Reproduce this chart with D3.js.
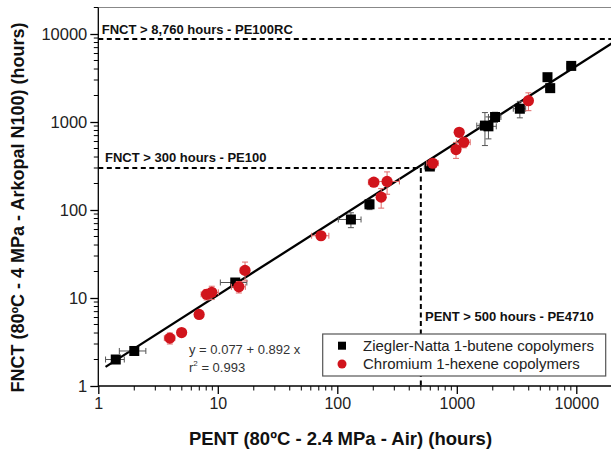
<!DOCTYPE html>
<html>
<head>
<meta charset="utf-8">
<script src="https://cdn.jsdelivr.net/npm/d3@7"></script>
<style>
  body { margin: 0; background: #fff; }
  svg { display: block; font-family: "Liberation Sans", Arial, sans-serif; }
</style>
</head>
<body>
<div id="container"></div>
<script>
// Ziegler-Natta 1-butene copolymers
const znPent = [1.4, 2.0, 14, 130, 186, 595, 1720, 1840, 2090, 3370, 5740, 6050, 9070];
const znFnct = [2.0, 2.5, 15, 78, 116, 312, 910, 893, 1140, 1415, 3230, 2425, 4340];
const znPentErr = [0.25, 0.5, 3.5, 28, 15, 60, 250, 300, 250, 400, 300, 500, 700];
const znFnctErr = [0.15, 0.2, 1, 15, 15, 30, 370, 250, 150, 300, 200, 200, 300];

// Chromium 1-hexene copolymers
const crPent = [3.97, 4.98, 6.98, 8.05, 8.9, 15, 16.9, 73, 202, 233, 261, 630, 985, 1047, 1145, 3975];
const crFnct = [3.5, 4.05, 6.5, 11, 11.6, 13.4, 20.6, 51, 207, 140, 211, 340, 486, 764, 589, 1745];
const crPentErr = [0.4, 0.3, 0.4, 0.8, 1.2, 2, 1.5, 12, 20, 20, 70, 70, 60, 40, 150, 300];
const crFnctErr = [0.5, 0.4, 0.5, 1.5, 2, 2, 5, 3, 15, 35, 60, 30, 100, 50, 80, 400];

// fitted line end points
const fitPent = [1.15, 20000];
const fitFnct = [1.65, 7900];

const xTicks = [1, 10, 100, 1000, 10000];
const yTicks = [1, 10, 100, 1000, 10000];

const seriesNames = ["Ziegler-Natta 1-butene copolymers", "Chromium 1-hexene copolymers"];

const width = 611, height = 451;
const left = 98.3, bottom = 386;
const red = "#d1141c";

const x = d3.scaleLog().domain([1, 20000]).range([left, left + 4.301 * 119.5]);
const y = d3.scaleLog().domain([1, 20000]).range([bottom, bottom - 4.301 * 88]);

const svg = d3.select("#container").append("svg")
  .attr("width", width).attr("height", height);

// top frame line
svg.append("line")
  .attr("x1", x(1)).attr("x2", x(20000))
  .attr("y1", y(20000)).attr("y2", y(20000))
  .attr("stroke", "#888").attr("stroke-width", 1.2);

// minor ticks
function minors(dom) {
  let out = [];
  for (let d = 1; d < dom; d *= 10)
    for (let k = 2; k <= 9; k++) if (d * k <= dom) out.push(d * k);
  return out;
}

const xAxis = d3.axisBottom(x).tickValues(xTicks).tickFormat(d3.format("d")).tickSize(8).tickPadding(4);
const gx = svg.append("g").attr("transform", `translate(0,${bottom})`).call(xAxis);
gx.select(".domain").attr("stroke", "#000").attr("stroke-width", 1.3).attr("d", `M${x(1)},0H${x(20000)}`);
gx.selectAll(".tick line").attr("stroke-width", 1.3);
gx.selectAll(".tick text").attr("font-size", 16).attr("fill", "#222")
  .attr("font-family", "Liberation Sans, Arial, sans-serif");
gx.selectAll(".minor").data(minors(20000)).enter().append("line")
  .attr("x1", d => x(d)).attr("x2", d => x(d)).attr("y1", 0).attr("y2", 4.5)
  .attr("stroke", "#000").attr("stroke-width", 1);

const yAxis = d3.axisLeft(y).tickValues(yTicks).tickFormat(d3.format("d")).tickSize(8).tickPadding(3);
const gy = svg.append("g").attr("transform", `translate(${left},0)`).call(yAxis);
gy.select(".domain").attr("stroke", "#000").attr("stroke-width", 1.3).attr("d", `M0,${y(1)}V${y(20000)}`);
gy.selectAll(".tick line").attr("stroke-width", 1.3);
gy.selectAll(".tick text").attr("font-size", 16.5).attr("fill", "#222")
  .attr("font-family", "Liberation Sans, Arial, sans-serif");
gy.selectAll(".minor").data(minors(20000)).enter().append("line")
  .attr("y1", d => y(d)).attr("y2", d => y(d)).attr("x1", 0).attr("x2", -4.5)
  .attr("stroke", "#000").attr("stroke-width", 1);

// axis titles
svg.append("text")
  .attr("x", 340.5).attr("y", 444.5).attr("text-anchor", "middle")
  .attr("font-size", 18.5).attr("font-weight", "bold").attr("fill", "#111")
  .text("PENT (80ºC - 2.4 MPa - Air) (hours)");
svg.append("text")
  .attr("transform", "translate(24,207.5) rotate(-90)").attr("text-anchor", "middle")
  .attr("font-size", 18).attr("font-weight", "bold").attr("fill", "#111")
  .text("FNCT (80ºC - 4 MPa - Arkopal N100) (hours)");

// requirement lines
const dash = "5,3.5";
svg.append("line")
  .attr("x1", x(1)).attr("x2", x(20000)).attr("y1", y(8760)).attr("y2", y(8760))
  .attr("stroke", "#000").attr("stroke-width", 2).attr("stroke-dasharray", dash);
svg.append("line")
  .attr("x1", x(1)).attr("x2", x(500)).attr("y1", y(300)).attr("y2", y(300))
  .attr("stroke", "#000").attr("stroke-width", 2).attr("stroke-dasharray", dash);
svg.append("line")
  .attr("x1", x(500)).attr("x2", x(500)).attr("y1", y(300)).attr("y2", y(1))
  .attr("stroke", "#000").attr("stroke-width", 2).attr("stroke-dasharray", dash);

const noteStyle = sel => sel.attr("font-size", 13).attr("font-weight", "bold").attr("fill", "#111");
svg.append("text").attr("x", 101.7).attr("y", 33.5).call(noteStyle).text("FNCT > 8,760 hours - PE100RC");
svg.append("text").attr("x", 105).attr("y", 161.5).call(noteStyle).text("FNCT > 300 hours - PE100");
svg.append("text").attr("x", 425).attr("y", 320.5).call(noteStyle).text("PENT > 500 hours - PE4710");

// fit line
svg.append("line")
  .attr("x1", x(fitPent[0])).attr("y1", y(fitFnct[0]))
  .attr("x2", x(fitPent[1])).attr("y2", y(fitFnct[1]))
  .attr("stroke", "#000").attr("stroke-width", 2.3);

// error bars
function errorBars(px, py, ex, ey, color) {
  const g = svg.append("g").attr("stroke", color).attr("stroke-width", 1).attr("fill", "none");
  const cap = 3;
  px.forEach((v, i) => {
    const cx = x(v), cy = y(py[i]);
    const x0 = x(Math.max(v - ex[i], 1)), x1 = x(v + ex[i]);
    const y0 = y(Math.max(py[i] - ey[i], 1)), y1 = y(py[i] + ey[i]);
    g.append("path").attr("d",
      `M${x0},${cy}H${x1}M${x0},${cy - cap}V${cy + cap}M${x1},${cy - cap}V${cy + cap}` +
      `M${cx},${y0}V${y1}M${cx - cap},${y0}H${cx + cap}M${cx - cap},${y1}H${cx + cap}`);
  });
}
errorBars(znPent, znFnct, znPentErr, znFnctErr, "#555");
svg.append("g").selectAll("rect").data(znPent).enter().append("rect")
  .attr("x", (d, i) => x(d) - 5).attr("y", (d, i) => y(znFnct[i]) - 5)
  .attr("width", 10).attr("height", 10).attr("fill", "#000");

errorBars(crPent, crFnct, crPentErr, crFnctErr, "#e06a6a");
svg.append("g").selectAll("circle").data(crPent).enter().append("circle")
  .attr("cx", d => x(d)).attr("cy", (d, i) => y(crFnct[i]))
  .attr("r", 5.6).attr("fill", red);

// equation
const eq = svg.append("g").attr("font-size", 13).attr("fill", "#333");
eq.append("text").attr("x", 189).attr("y", 353.5).text("y = 0.077 + 0.892 x");
const r2 = eq.append("text").attr("x", 189).attr("y", 372);
r2.append("tspan").text("r");
r2.append("tspan").attr("font-size", 8).attr("dy", -6).text("2");
r2.append("tspan").attr("dy", 6).text(" = 0.993");

// legend
const lg = svg.append("g");
lg.append("rect").attr("x", 322.7).attr("y", 334).attr("width", 283).attr("height", 42)
  .attr("fill", "#fff").attr("stroke", "#555").attr("stroke-width", 1.2);
lg.append("rect").attr("x", 338).attr("y", 341.7).attr("width", 8).attr("height", 8).attr("fill", "#000");
lg.append("circle").attr("cx", 342).attr("cy", 364).attr("r", 4.5).attr("fill", red);
lg.selectAll("text.lab").data(seriesNames).enter().append("text")
  .attr("x", 363).attr("y", (d, i) => 351 + i * 18.3)
  .attr("font-size", 15).attr("fill", "#222").text(d => d);
</script>
</body>
</html>
